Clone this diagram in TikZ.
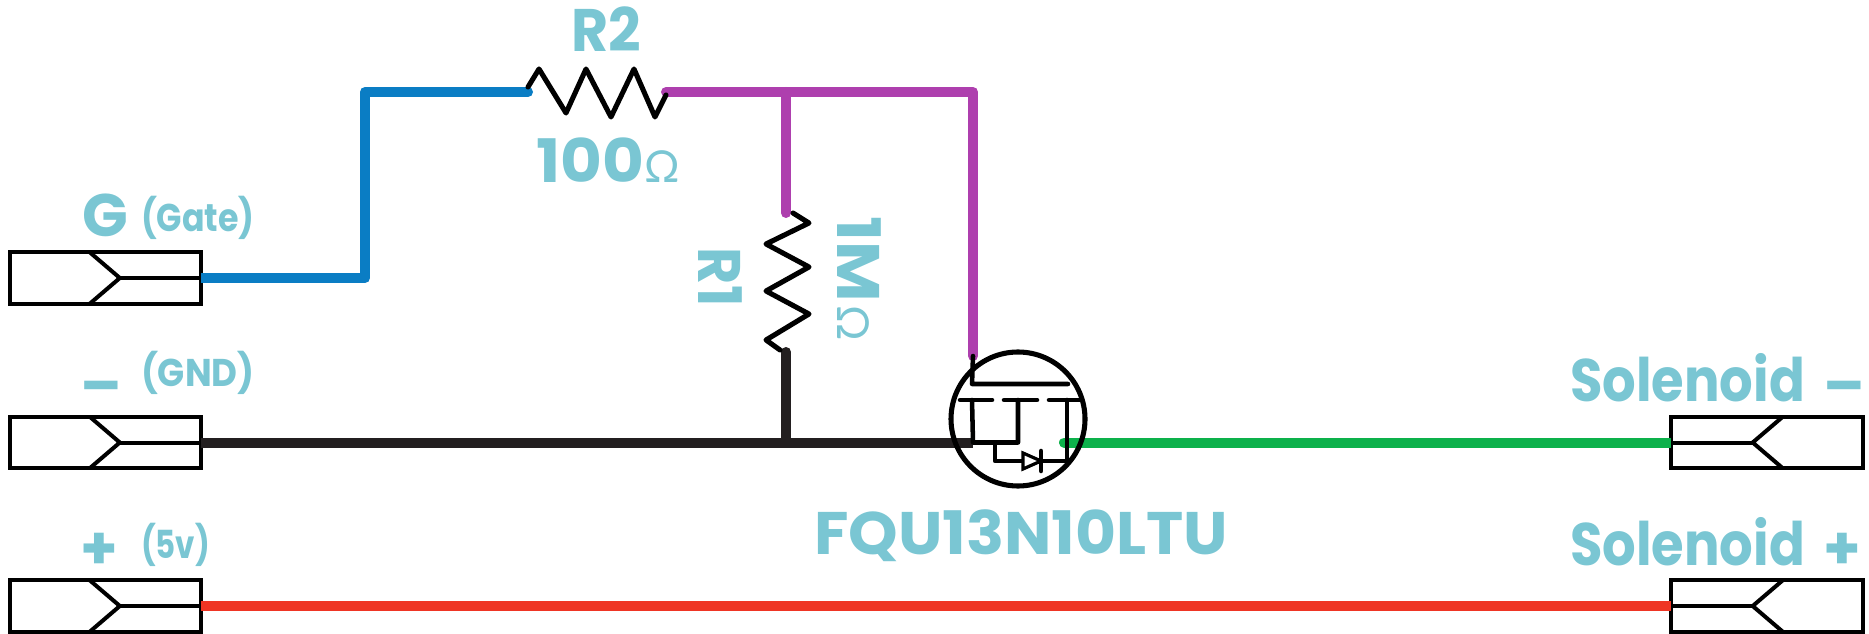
\documentclass[tikz,border=0pt]{standalone}
\usepackage{fontspec}
\usetikzlibrary{calc}
\setmainfont{Poppins}
\newfontfamily\omegafont{Lato}
\definecolor{lbl}{HTML}{7AC6D3}
\definecolor{wblue}{HTML}{0A7DC4}
\definecolor{wpurple}{HTML}{AE3FAE}
\definecolor{wblack}{HTML}{231F20}
\definecolor{wgreen}{HTML}{0DB14B}
\definecolor{wred}{HTML}{EF3524}
\newcommand{\hs}[2]{\scalebox{#1}[1]{#2}}
\tikzset{
  x=0.75pt,y=-0.75pt,
  wire/.style={line width=7.5pt,line cap=round,line join=round},
  flatwire/.style={line width=7.5pt,line cap=butt},
  pinbox/.style={draw=black,line width=3pt,fill=white,minimum width=143.5pt,minimum height=38.5pt,inner sep=0pt,outer sep=0pt},
  thin sym/.style={draw=black,line width=3.4pt,line join=round,line cap=round},
  pin line/.style={draw=black,line width=3pt,line join=miter,line cap=butt},
  zig/.style={draw=black,line width=3.8pt,line join=round,line cap=round},
  big/.style={text=lbl,font=\bfseries\fontsize{45pt}{45pt}\selectfont,anchor=base west,inner sep=0pt,outer sep=0pt},
  small/.style={text=lbl,font=\bfseries\fontsize{29pt}{29pt}\selectfont,anchor=base west,inner sep=0pt,outer sep=0pt},
  ohm/.style={text=lbl,font=\omegafont\fontsize{33pt}{33pt}\selectfont,anchor=base west,inner sep=0pt,outer sep=0pt},
}
\begin{document}
\begin{tikzpicture}
\useasboundingbox (0,0) rectangle (1869,634);
% connectors
\node[pinbox] (G) at (105.5,278) {};
\node[pinbox] (N) at (105.5,442.5) {};
\node[pinbox] (P) at (105.5,606) {};
\node[pinbox] (SN) at (1767,442.5) {};
\node[pinbox] (SP) at (1767,606) {};
\foreach \n in {G,N,P}{
  \draw[pin line] ($(\n.north west)+(80,0)$) -- ($(\n.west)+(110,0)$) -- ($(\n.south west)+(80,0)$);
  \draw[pin line] ($(\n.west)+(110,0)$) -- (\n.east);
}
\foreach \n in {SN,SP}{
  \draw[pin line] ($(\n.north east)+(-80,0)$) -- ($(\n.east)+(-110,0)$) -- ($(\n.south east)+(-80,0)$);
  \draw[pin line] ($(\n.east)+(-110,0)$) -- (\n.west);
}
% key points
\coordinate (b1) at (365,278);
\coordinate (b2) at (365,92);
\coordinate (r2l) at (528,92);
\coordinate (r2r) at (666,92);
\coordinate (tee) at (786,92);
\coordinate (cor) at (973,92);
\coordinate (r1t) at (786,213);
\coordinate (drain) at (973,356);
\coordinate (r1b) at (786,352);
\coordinate (gnd) at (786,442.5);
\coordinate (src) at (973,442.5);
\coordinate (gs) at (1064,442.5);
% wires
\draw[flatwire,wblue] (G.east) -- (b1);
\draw[wire,wblue] (b1) -- (b2) -- (r2l);
\draw[wire,wpurple] (r2r) -- (cor) -- (drain);
\draw[wire,wpurple] (tee) -- (r1t);
\draw[wire,wblack] (r1b) -- (gnd);
\draw[flatwire,wblack] (N.east) -- (src);
\draw[wire,wgreen] (gs) -- ($(SN.west)+(-10,0)$);
\draw[flatwire,wgreen] ($(SN.west)+(-20,0)$) -- (SN.west);
\draw[flatwire,wred] (P.east) -- (SP.west);
% resistors
\draw[zig] (528,87) -- (539,69) -- (566,113) -- (586,69) -- (611,117) -- (634,69) -- (655,117) -- (666,95);
\draw[zig] (793,213) -- (809,223) -- (766,244) -- (809,267) -- (766,291) -- (809,314) -- (766,340) -- (780,350);
% MOSFET
\node[circle,draw=black,line width=3.8pt,minimum size=100.5pt,inner sep=0pt,outer sep=0pt] (Q) at (1018,419) {};
\draw[thin sym] (drain) -- (972,384) -- (1068,384);
\draw[thin sym] (960,400) -- (992,400) (1004,400) -- (1037,400) (1049,400) -- (1080,400);
\draw[thin sym] (972,400) -- (src) -- (1018,442.5) -- (1018,400);
\draw[thin sym] (995,442.5) -- (995,461) -- (1067,461) -- (1067,400);
\draw[draw=black,fill=white,line width=2.4pt,line join=miter] (1023,453) -- (1023,469) -- (1041,461) -- cycle;
\draw[thin sym] (1041,451) -- (1041,471);
% labels
\node[big] (tG) at (82,237) {G};
\node[small] (tGate) at (141,232) {\hs{0.86}{(Gate)}};
\node[big] (tM) at (80,406) {–};
\node[small] (tGND) at (141,386) {\hs{0.92}{(GND)}};
\node[big] (tP) at (80,569) {+};
\node[small] (t5v) at (141,558) {\hs{0.8}{(5v)}};
\node[big] (tR2) at (571,52) {\hs{0.95}{R2}};
\node[big] (t100) at (536,183) {\hs{1.07}{100}};
\node[ohm] (tO1) at (644,183) {Ω};
\node[big,rotate=-90] (tR1) at (698,248) {\hs{0.95}{R1}};
\node[big,rotate=-90] (t1M) at (837,217) {\hs{1.1}{1M}};
\node[ohm,rotate=-90] (tO2) at (837,306) {Ω};
\node[big] (tF) at (814,554) {\hs{1.05}{FQU13N10LTU}};
\node[big] (tSn) at (1570,401) {\hs{0.88}{Solenoid}};
\node[big] (tSnm) at (1823,406) {–};
\node[big] (tSp) at (1570,565) {\hs{0.88}{Solenoid}};
\node[big] (tSpp) at (1823,569) {+};
\end{tikzpicture}
\end{document}
